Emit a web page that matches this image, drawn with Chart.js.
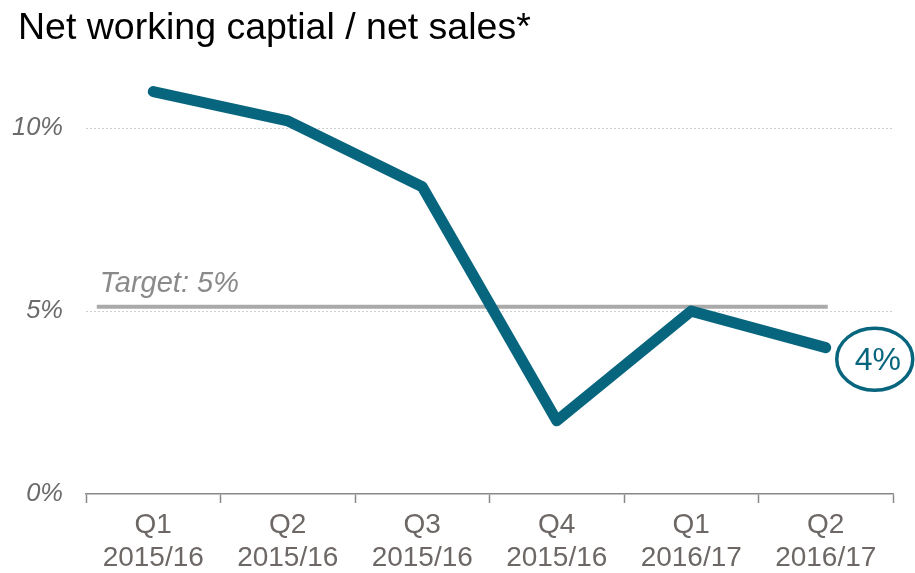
<!DOCTYPE html>
<html>
<head>
<meta charset="utf-8">
<script src="https://cdn.jsdelivr.net/npm/chart.js@4/dist/chart.umd.min.js"></script>
<style>
  body { margin: 0; background: #fff; }
  #wrap { width: 915px; height: 573px; position: relative; }
</style>
</head>
<body>
<div id="wrap"><canvas id="myChart"></canvas></div>
<script>
const quarters = [
  ["Q1", "2015/16"], ["Q2", "2015/16"], ["Q3", "2015/16"],
  ["Q4", "2015/16"], ["Q1", "2016/17"], ["Q2", "2016/17"]
]
const nwcRatio = [11.0, 10.2, 8.4, 2.0, 5.0, 4.0]
const targetValue = [5.12]
const targetLabel = ["Target: 5%"]
const chartTitle = "Net working captial / net sales*"

const FONT = "'Liberation Sans', Arial, sans-serif"
const TEAL = "#07657d"

// title drawn in the reserved top padding, left aligned
const titlePlugin = {
  id: "leftTitle",
  afterDraw(chart) {
    const ctx = chart.ctx
    ctx.save()
    ctx.fillStyle = "#000"
    ctx.font = "37.5px " + FONT
    ctx.textAlign = "left"
    ctx.textBaseline = "alphabetic"
    ctx.fillText(chartTitle, 18, 38.5)
    ctx.restore()
  }
}

// target line + label, drawn under the data line
const targetPlugin = {
  id: "target",
  beforeDatasetsDraw(chart) {
    const { ctx, scales: { x, y } } = chart
    const ty = y.getPixelForValue(targetValue[0])
    const x0 = x.getPixelForValue(-0.42)
    const x1 = x.getPixelForValue(nwcRatio.length - 1) + 2
    ctx.save()
    ctx.strokeStyle = "#aaaaaa"
    ctx.lineWidth = 4
    ctx.beginPath()
    ctx.moveTo(x0, ty)
    ctx.lineTo(x1, ty)
    ctx.stroke()
    ctx.fillStyle = "#8a8a8a"
    ctx.font = "italic 29px " + FONT
    ctx.textBaseline = "alphabetic"
    ctx.textAlign = "left"
    ctx.fillText(targetLabel[0], x0 + 3, ty - 15)
    ctx.restore()
  }
}

// ellipse callout on the last value
const calloutPlugin = {
  id: "callout",
  afterDatasetsDraw(chart) {
    const { ctx, scales: { x, y } } = chart
    const last = nwcRatio.length - 1
    const cx = x.getPixelForValue(last) + 49
    const cy = y.getPixelForValue(nwcRatio[last]) + 11.5
    ctx.save()
    ctx.strokeStyle = TEAL
    ctx.lineWidth = 3.5
    ctx.beginPath()
    ctx.ellipse(cx, cy, 38, 31, 0, 0, Math.PI * 2)
    ctx.stroke()
    ctx.fillStyle = TEAL
    ctx.font = "32px " + FONT
    ctx.textAlign = "center"
    ctx.textBaseline = "middle"
    ctx.fillText(nwcRatio[last] + "%", cx + 3, cy + 2)
    ctx.restore()
  }
}

const ctx = document.getElementById("myChart")
const myChart = new Chart(ctx, {
  type: "line",
  data: {
    labels: quarters,
    datasets: [{
      data: nwcRatio,
      borderColor: TEAL,
      borderWidth: 11,
      borderCapStyle: "round",
      borderJoinStyle: "round",
      pointRadius: 0,
      tension: 0,
      clip: false
    }]
  },
  plugins: [titlePlugin, targetPlugin, calloutPlugin],
  options: {
    responsive: true,
    maintainAspectRatio: false,
    animation: false,
    layout: { padding: { left: 0, right: 22, top: 55, bottom: 0 } },
    plugins: {
      legend: { display: false },
      tooltip: { enabled: false },
      title: { display: false }
    },
    scales: {
      x: {
        offset: true,
        grid: {
          offset: true,
          drawOnChartArea: false,
          drawTicks: true,
          tickLength: 9,
          tickColor: "#888",
          tickWidth: 1.5
        },
        border: { color: "#888", width: 1.5 },
        ticks: {
          color: "#6d6866",
          padding: 5,
          maxRotation: 0,
          autoSkip: false,
          font: { family: FONT, size: 28, lineHeight: 1.2 }
        },
        afterFit(scale) { scale.height = 79 }
      },
      y: {
        min: 0,
        max: 12,
        grid: {
          drawTicks: false,
          color: c => c.tick && c.tick.value === 0 ? "rgba(0,0,0,0)" : "#cfcfcf",
          lineWidth: 1
        },
        border: { display: false, dash: [2, 2] },
        ticks: {
          stepSize: 5,
          includeBounds: false,
          padding: 23,
          color: "#6b6b6b",
          font: { family: FONT, size: 25.5, style: "italic" },
          callback: v => v + "%"
        },
        afterFit(scale) { scale.width = 86 }
      }
    }
  }
})
</script>
</body>
</html>
